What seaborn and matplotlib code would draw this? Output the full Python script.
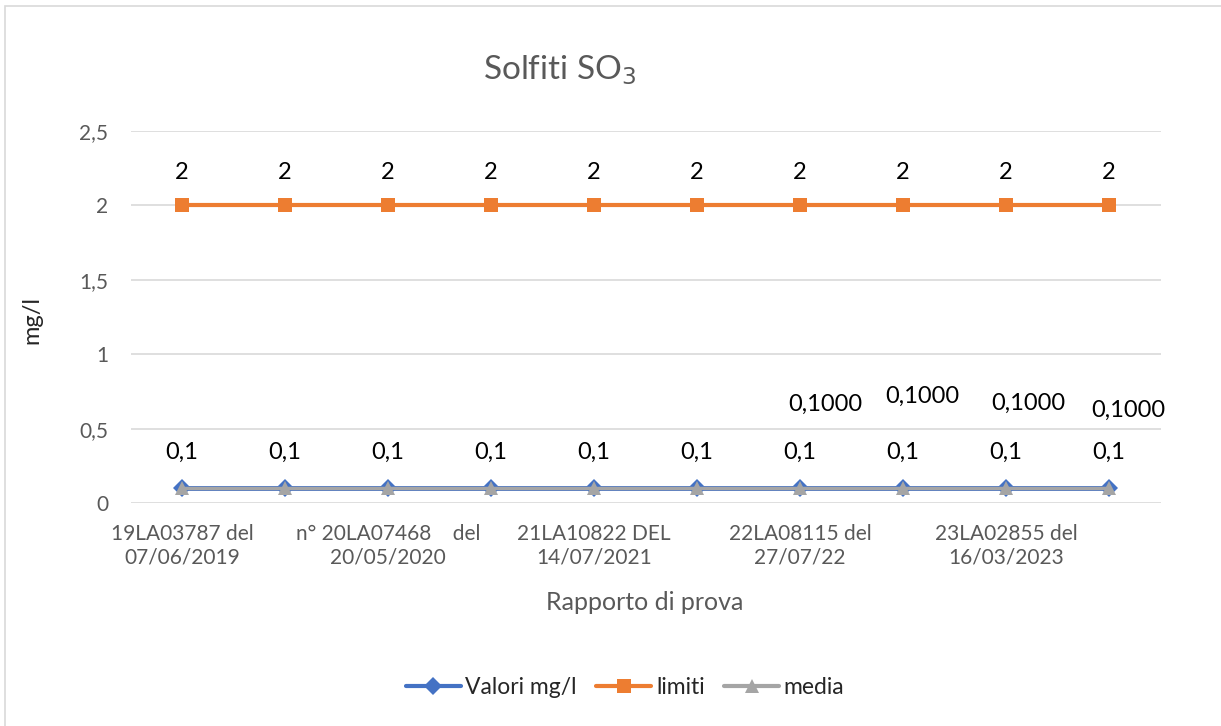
import matplotlib

matplotlib.use("Agg")
import matplotlib.pyplot as plt  # noqa: E402
import numpy as np  # noqa: E402
import seaborn as sns  # noqa: E402
from matplotlib.lines import Line2D  # noqa: E402
from matplotlib.patches import Rectangle  # noqa: E402

# ---------------------------------------------------------------------------
# Data
# ---------------------------------------------------------------------------
tick_labels = [
    "19LA03787 del\n07/06/2019", "",
    "n° 20LA07468    del\n20/05/2020", "",
    "21LA10822 DEL\n14/07/2021", "",
    "22LA08115 del\n27/07/22", "",
    "23LA02855 del\n16/03/2023", "",
]
valori = [0.1, 0.1, 0.1, 0.1, 0.1, 0.1, 0.1, 0.1, 0.1, 0.1]
limiti = [2, 2, 2, 2, 2, 2, 2, 2, 2, 2]
media = [0.1, 0.1, 0.1, 0.1, 0.1, 0.1, 0.1, 0.1, 0.1, 0.1]
media_labelled = [6, 7, 8, 9]          # points whose "media" label is shown

# label offsets (points) for the stray "0,1000" labels
media_offsets = [(18, 60), (14, 66), (16, 61), (14, 56)]

BLUE, ORANGE, GREY = "#4472C4", "#ED7D31", "#A5A5A5"
TXT = "#595959"
LBL = 17  # data-label size

sns.set_theme(style="white")
plt.rcParams["font.family"] = ["Lato", "DejaVu Sans"]

W, H = 1221, 726
fig = plt.figure(figsize=(W / 100, H / 100), dpi=100)
ax = fig.add_axes([130.5 / W, 1 - 503 / H, 1030 / W, 372 / H])

x = np.arange(len(valori))
sns.lineplot(x=x, y=limiti, ax=ax, color=ORANGE, lw=3, marker="s", ms=10,
             markeredgewidth=0, zorder=3)
sns.lineplot(x=x, y=valori, ax=ax, color=BLUE, lw=3.5, marker="D", ms=9,
             markeredgewidth=0, zorder=3)
sns.lineplot(x=x, y=media, ax=ax, color=GREY, lw=2.5, marker="^", ms=10,
             markeredgewidth=0, zorder=4)

# data labels
for xi, v in zip(x, limiti):
    ax.annotate(f"{v:g}".replace(".", ","), (xi, v), xytext=(0, 24),
                textcoords="offset points", ha="center", va="center",
                fontsize=LBL, color="black")
for xi, v in zip(x, valori):
    ax.annotate(f"{v:g}".replace(".", ","), (xi, v), xytext=(0, 26),
                textcoords="offset points", ha="center", va="center",
                fontsize=LBL, color="black")
for i, off in zip(media_labelled, media_offsets):
    ax.annotate(f"{media[i]:.4f}".replace(".", ","), (x[i], media[i]),
                xytext=off, textcoords="offset points", ha="center",
                va="center", fontsize=LBL, color="black")

ax.set_xlim(-0.5, len(x) - 0.5)
ax.set_ylim(0, 2.5)
yt = np.arange(0, 2.51, 0.5)
ax.set_yticks(yt)
ax.set_yticklabels([f"{t:g}".replace(".", ",") for t in yt], fontsize=15, color=TXT)
ax.set_xticks(x)
ax.set_xticklabels(tick_labels, fontsize=15, color=TXT, linespacing=1.2)
ax.tick_params(axis="y", length=0, pad=16)
ax.tick_params(axis="x", length=0, pad=15)
ax.grid(axis="y", color="#D9D9D9", lw=1.2)
ax.grid(axis="x", visible=False)
ax.set_axisbelow(True)
for s in ax.spines.values():
    s.set_visible(False)
ax.set_xlabel("")
ax.set_ylabel("")

fig.text(560 / W, 1 - 70 / H, "Solfiti SO$_3$", ha="center", va="center",
         fontsize=24, color=TXT)
fig.text(645 / W, 1 - 602 / H, "Rapporto di prova", ha="center", va="center",
         fontsize=18, color=TXT)
fig.text(32 / W, 1 - 320 / H, "mg/l", ha="center", va="center",
         rotation=90, fontsize=17, color="#262626")

handles = [
    Line2D([], [], color=BLUE, lw=3, marker="D", ms=9, markeredgewidth=0),
    Line2D([], [], color=ORANGE, lw=3, marker="s", ms=10, markeredgewidth=0),
    Line2D([], [], color=GREY, lw=3, marker="^", ms=10, markeredgewidth=0),
]
fig.legend(handles, ["Valori mg/l", "limiti", "media"], loc="center",
           bbox_to_anchor=(625 / W, 1 - 688 / H), ncol=3, frameon=False,
           fontsize=16.5, handlelength=2.4, handletextpad=0.2, columnspacing=0.85)

fig.add_artist(Rectangle((5 / W, -0.05), 1.1, 1 - 6 / H + 0.05,
                         transform=fig.transFigure, fill=False,
                         edgecolor="#D9D9D9", lw=1.2))

fig.savefig("out.png", dpi=100)
plt.close(fig)
